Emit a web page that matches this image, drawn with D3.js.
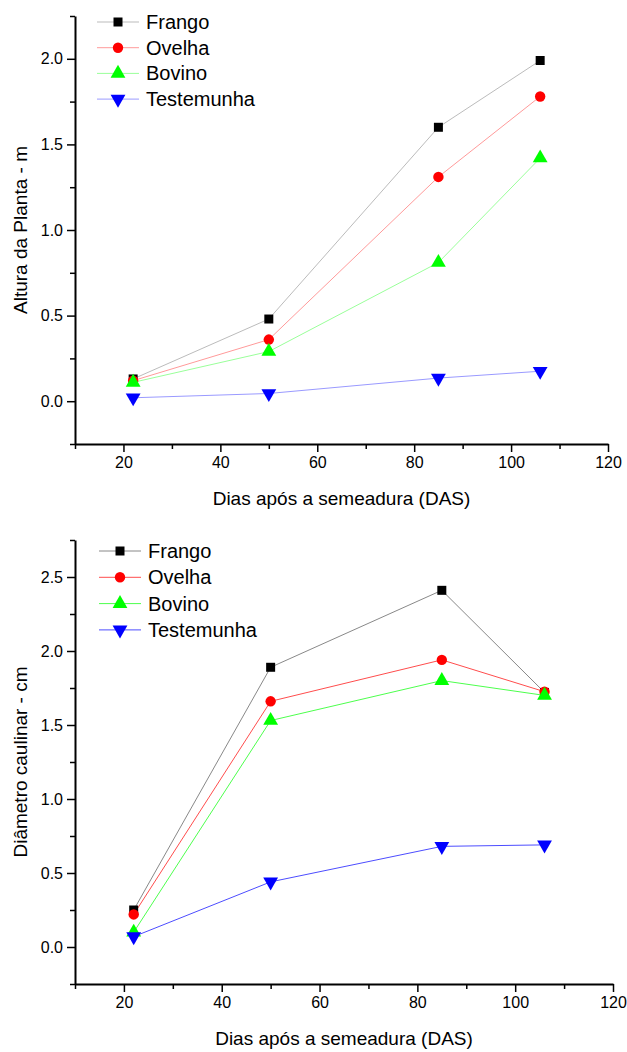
<!DOCTYPE html>
<html>
<head>
<meta charset="utf-8">
<script src="https://cdn.jsdelivr.net/npm/d3@7"></script>
<style>
  body { margin: 0; background: #fff; }
  svg text { font-family: "Liberation Sans", Arial, sans-serif; fill: #000; }
  .axis path, .axis line { stroke: #000; }
</style>
</head>
<body>
<script>
// Data
var dias = [22, 50, 85, 106];
var series = ["Frango", "Ovelha", "Bovino", "Testemunha"];

// Altura da planta (m)
var alturaFrango = [0.13, 0.48, 1.60, 1.99];
var alturaOvelha = [0.12, 0.36, 1.31, 1.78];
var alturaBovino = [0.11, 0.29, 0.81, 1.42];
var alturaTestemunha = [0.02, 0.045, 0.135, 0.175];

// Diametro caulinar (cm)
var diamFrango = [0.25, 1.89, 2.41, 1.72];
var diamOvelha = [0.22, 1.66, 1.94, 1.725];
var diamBovino = [0.10, 1.53, 1.80, 1.70];
var diamTestemunha = [0.07, 0.44, 0.68, 0.69];

var xTicks = [20, 40, 60, 80, 100, 120];
var xMinorTicks = [10, 30, 50, 70, 90, 110];
var yTicksTop = [0.0, 0.5, 1.0, 1.5, 2.0];
var yTicksBottom = [0.0, 0.5, 1.0, 1.5, 2.0, 2.5];

var markerColor = {Frango: "#000000", Ovelha: "#ff0000", Bovino: "#00ff00", Testemunha: "#0000ff"};
var markerShape = {Frango: d3.symbolSquare, Ovelha: d3.symbolCircle, Bovino: d3.symbolTriangle, Testemunha: d3.symbolTriangle};
var markerSize = {Frango: 81, Ovelha: 85, Bovino: 95, Testemunha: 95};

var width = 627, height = 1052;

var svg = d3.select("body").append("svg")
  .attr("width", width)
  .attr("height", height);

function drawChart(opts) {
  var x = d3.scaleLinear().domain([10, 120]).range([opts.left, opts.right]);
  var y = d3.scaleLinear().domain(opts.yDomain).range([opts.bottom, opts.top]);
  var g = svg.append("g");

  // minor ticks
  var xMinor = d3.axisBottom(x).tickValues(xMinorTicks).tickSize(5).tickFormat("");
  g.append("g").attr("class", "axis")
    .attr("transform", "translate(0," + opts.bottom + ")")
    .call(xMinor)
    .call(function(s) { s.select(".domain").remove(); s.selectAll("line").attr("stroke-width", 1.5); });

  var yMinor = d3.axisLeft(y).tickValues(opts.yMinor).tickSize(5).tickFormat("");
  g.append("g").attr("class", "axis")
    .attr("transform", "translate(" + opts.left + ",0)")
    .call(yMinor)
    .call(function(s) { s.select(".domain").remove(); s.selectAll("line").attr("stroke-width", 1.5); });

  // major axes
  var xAxis = d3.axisBottom(x).tickValues(xTicks).tickSize(8).tickSizeOuter(0).tickPadding(5);
  g.append("g").attr("class", "axis")
    .attr("transform", "translate(0," + opts.bottom + ")")
    .call(xAxis)
    .call(function(s) {
      s.select(".domain").attr("stroke-width", 2);
      s.selectAll("line").attr("stroke-width", 1.5);
      s.selectAll("text").attr("font-size", 16);
    });

  var yAxis = d3.axisLeft(y).tickValues(opts.yTicks).tickSize(8).tickSizeOuter(0).tickPadding(4)
    .tickFormat(d3.format(".1f"));
  g.append("g").attr("class", "axis")
    .attr("transform", "translate(" + opts.left + ",0)")
    .call(yAxis)
    .call(function(s) {
      s.select(".domain").attr("stroke-width", 2);
      s.selectAll("line").attr("stroke-width", 1.5);
      s.selectAll("text").attr("font-size", 16);
    });

  // axis titles
  g.append("text")
    .attr("x", (opts.left + opts.right) / 2)
    .attr("y", opts.bottom + 61)
    .attr("text-anchor", "middle")
    .attr("font-size", 19)
    .text("Dias após a semeadura (DAS)");

  g.append("text")
    .attr("transform", "translate(" + 27 + "," + (opts.top + opts.bottom) / 2 + ") rotate(-90)")
    .attr("text-anchor", "middle")
    .attr("font-size", 19)
    .text(opts.yLabel);

  var line = d3.line()
    .x(function(d) { return x(d.x); })
    .y(function(d) { return y(d.y); });

  series.forEach(function(name, k) {
    var pts = dias.map(function(d, i) { return {x: d, y: opts.values[k][i]}; });
    g.append("path")
      .datum(pts)
      .attr("fill", "none")
      .attr("stroke", markerColor[name] === "#000000" ? "#555" : markerColor[name])
      .attr("stroke-opacity", opts.lineOpacity)
      .attr("stroke-width", 1)
      .attr("d", line);
  });

  series.forEach(function(name, k) {
    var pts = dias.map(function(d, i) { return {x: d, y: opts.values[k][i]}; });
    g.selectAll(null)
      .data(pts)
      .enter()
      .append("path")
      .attr("d", d3.symbol().type(markerShape[name]).size(markerSize[name]))
      .attr("transform", function(d) {
        return "translate(" + x(d.x) + "," + y(d.y) + ")" + (name === "Testemunha" ? " rotate(180)" : "");
      })
      .attr("fill", markerColor[name]);
  });

  // legend
  var leg = g.append("g");
  series.forEach(function(name, k) {
    var ly = opts.legendY + k * opts.legendStep;
    leg.append("line")
      .attr("x1", opts.legendX).attr("x2", opts.legendX + 42)
      .attr("y1", ly).attr("y2", ly)
      .attr("stroke", markerColor[name] === "#000000" ? "#555" : markerColor[name])
      .attr("stroke-opacity", opts.lineOpacity)
      .attr("stroke-width", 1);
    leg.append("path")
      .attr("d", d3.symbol().type(markerShape[name]).size(markerSize[name]))
      .attr("transform", "translate(" + (opts.legendX + 21) + "," + ly + ")" + (name === "Testemunha" ? " rotate(180)" : ""))
      .attr("fill", markerColor[name]);
    leg.append("text")
      .attr("x", opts.legendX + 49)
      .attr("y", ly)
      .attr("dy", "0.35em")
      .attr("font-size", 20)
      .text(name);
  });
}

drawChart({
  left: 75, right: 608, top: 16, bottom: 444,
  yDomain: [-0.25, 2.25],
  yTicks: yTicksTop,
  yMinor: [-0.25, 0.25, 0.75, 1.25, 1.75, 2.25],
  yLabel: "Altura da Planta - m",
  values: [alturaFrango, alturaOvelha, alturaBovino, alturaTestemunha],
  lineOpacity: 0.4,
  legendX: 97, legendY: 22, legendStep: 25.7
});

drawChart({
  left: 75, right: 613, top: 540, bottom: 984,
  yDomain: [-0.25, 2.75],
  yTicks: yTicksBottom,
  yMinor: [-0.25, 0.25, 0.75, 1.25, 1.75, 2.25, 2.75],
  yLabel: "Diâmetro caulinar - cm",
  values: [diamFrango, diamOvelha, diamBovino, diamTestemunha],
  lineOpacity: 0.7,
  legendX: 99, legendY: 551, legendStep: 26.3
});
</script>
</body>
</html>
